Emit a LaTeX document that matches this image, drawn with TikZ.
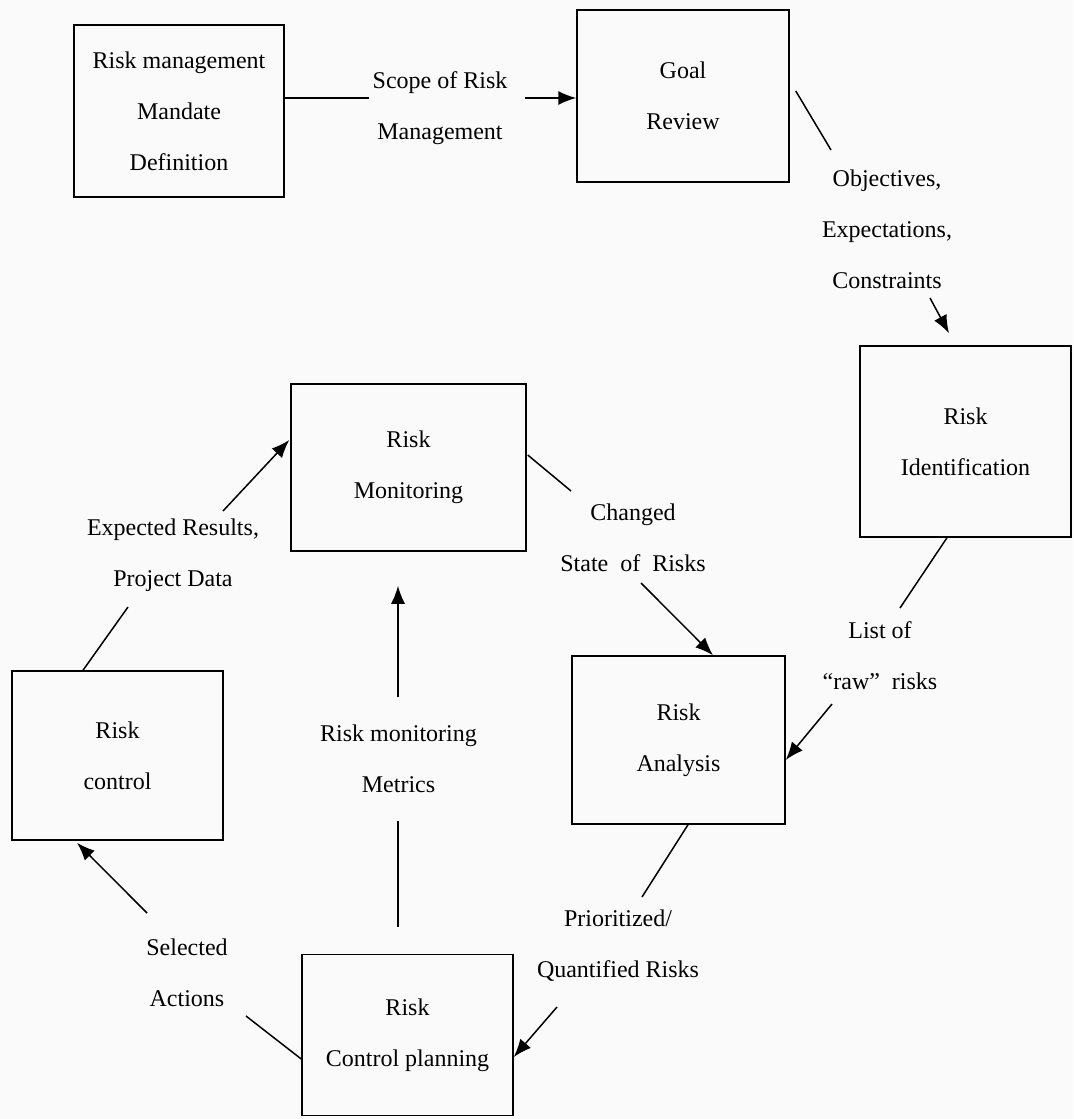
\documentclass[tikz,border=0pt]{standalone}
\usepackage{fontspec}
\setmainfont{Liberation Serif}
\usetikzlibrary{calc,arrows.meta}

\begin{document}
\begin{tikzpicture}[
        x=0.5pt, y=-0.5pt,
        line width=0.75pt,
        >={Latex[length=9pt,width=7pt]},
        every node/.style={font=\fontsize{12}{25.5}\selectfont, align=center},
        box/.style={draw, inner sep=0pt},
        lbl/.style={inner sep=1.5pt}
    ]
 \path[use as bounding box, fill=black!2] (0,0) rectangle (1073,1119);

 % process boxes
 \node[box, minimum width=105pt, minimum height=86pt] (mandate) at (179,111) {Risk management\\Mandate\\Definition};
 \node[box, minimum width=106pt, minimum height=86pt] (goal) at (683,96) {Goal\\Review};
 \node[box, minimum width=105.5pt, minimum height=95.5pt] (ident) at (965.5,441.5) {Risk\\Identification};
 \node[box, minimum width=117.5pt, minimum height=83.5pt] (monit) at (408.5,467.5) {Risk\\Monitoring};
 \node[box, minimum width=106.5pt, minimum height=84pt] (analysis) at (678.5,740) {Risk\\Analysis};
 \node[box, minimum width=105.5pt, minimum height=84.5pt] (control) at (117.5,755.5) {Risk\\control};
 \node[box, minimum width=105.5pt, minimum height=80.5pt] (planning) at (407.5,1035) {Risk\\Control planning};

 % flow labels
 \node[lbl] (scope) at (440,108.5) {Scope of Risk\\Management};
 \node[lbl] (objectives) at (887,229.5) {Objectives,\\Expectations,\\Constraints};
 \node[lbl] (changed) at (633,537.5) {Changed\\State\ \ of\ \ Risks};
 \node[lbl] (list) at (880,655.5) {List of\\“raw”\ \ risks};
 \node[lbl] (prior) at (618,946) {Prioritized/\\Quantified Risks};
 \node[lbl] (selected) at (187,972.5) {Selected\\Actions};
 \node[lbl] (expected) at (173,555.5) {Expected Results,\\Project Data};
 \node[lbl] (metrics) at (398.5,759) {Risk monitoring\\Metrics};

 % connectors
 \draw ($(mandate.east)+(0,-13)$) -- ($(scope)+(-71,-10.5)$);
 \draw[->] ($(scope)+(85,-10.5)$) -- ($(goal.west)+(0,2)$);
 \draw ($(goal.east)+(6,-5)$) -- ($(objectives)+(-56,-79.5)$);
 \draw[->] ($(objectives)+(43,68.5)$) -- ($(ident.north)+(-16.5,-12)$);
 \draw ($(ident.south)+(-18.5,0)$) -- ($(list)+(20,-47.5)$);
 \draw[->] ($(list)+(-48,48.5)$) -- ($(analysis.east)+(0,20)$);
 \draw ($(analysis.south)+(9.5,0)$) -- ($(prior)+(24,-49)$);
 \draw[->] ($(prior)+(-61,61)$) -- ($(planning.east)+(0,22)$);
 \draw ($(planning.west)+(0,24)$) -- ($(selected)+(59,43.5)$);
 \draw[->] ($(selected)+(-40,-59.5)$) -- ($(control.south)+(-40.5,2)$);
 \draw ($(control.north)+(-34.5,0)$) -- ($(expected)+(-45,51.5)$);
 \draw[->] ($(expected)+(50,-44.5)$) -- ($(monit.west)+(-1,-27.5)$);
 \draw ($(monit.east)+(1,-12.5)$) -- ($(changed)+(-62,-46.5)$);
 \draw[->] ($(changed)+(8,45.5)$) -- ($(analysis.north)+(34.5,0)$);
 \draw ($(planning.north)+(-9.5,-27)$) -- ($(metrics)+(-0.5,62)$);
 \draw[->] ($(metrics)+(-0.5,-62)$) -- ($(monit.south)+(-10.5,34)$);
\end{tikzpicture}
\end{document}
